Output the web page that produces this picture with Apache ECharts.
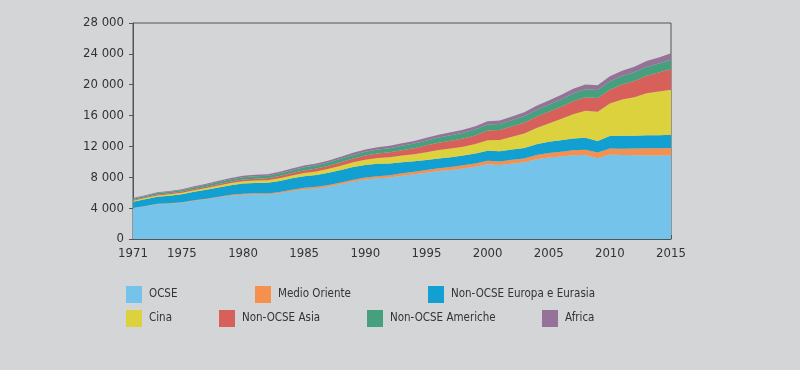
<!DOCTYPE html>
<html>
<head>
<meta charset="utf-8">
<script src="https://cdn.jsdelivr.net/npm/echarts@6/dist/echarts.min.js"></script>
<style>
html,body{margin:0;padding:0;background:#d4d5d7;}
#c{width:800px;height:370px;}
</style>
</head>
<body>
<div id="c"></div>
<script>
const years = [];
for (let y = 1971; y <= 2015; y++) years.push(String(y));

const seriesNames = ["OCSE", "Medio Oriente", "Non-OCSE Europa e Eurasia", "Cina", "Non-OCSE Asia", "Non-OCSE Americhe", "Africa"];

const ocse = [3980,4250,4520,4580,4700,4950,5150,5400,5620,5750,5790,5760,5950,6230,6450,6560,6800,7100,7450,7700,7880,7980,8200,8400,8600,8800,8950,9150,9380,9700,9600,9800,9950,10350,10580,10700,10850,10880,10480,10950,10880,10850,10870,10830,10850];
const medioOriente = [30,35,40,45,55,65,75,90,100,110,125,140,155,170,185,200,215,230,245,260,270,290,310,330,340,360,380,400,420,440,460,480,500,540,580,610,650,700,740,790,830,870,900,930,960];
const europaEurasia = [820,870,930,990,1050,1100,1150,1200,1250,1320,1350,1380,1420,1460,1500,1540,1580,1620,1630,1620,1600,1530,1450,1340,1310,1290,1270,1260,1270,1300,1310,1330,1360,1400,1450,1480,1520,1550,1480,1620,1660,1670,1670,1680,1700];
const cina = [140,150,165,170,195,205,225,255,280,300,310,330,350,375,420,460,510,560,620,700,740,790,850,930,1000,1080,1130,1160,1240,1360,1470,1650,1870,2100,2350,2750,3150,3500,3800,4200,4700,4990,5450,5670,5850];
const asia = [100,110,120,130,145,160,175,190,205,220,240,260,280,305,335,365,395,435,475,530,580,640,700,780,900,960,1020,1060,1120,1250,1290,1340,1400,1460,1520,1600,1690,1750,1780,1800,1950,2100,2270,2470,2680];
const americhe = [150,165,180,195,210,230,250,270,295,320,330,345,360,380,400,420,440,460,480,500,520,540,565,595,630,660,700,730,750,790,780,810,840,880,920,950,990,1020,1020,1070,1100,1130,1150,1170,1200];
const africa = [80,85,95,100,110,120,130,140,155,170,180,190,200,215,230,240,250,265,280,300,310,320,330,340,360,370,390,400,420,440,460,480,500,530,560,590,620,630,640,680,700,720,750,790,830];

const yTicks = [0, 4000, 8000, 12000, 16000, 20000, 24000, 28000];

const seriesData = [ocse, medioOriente, europaEurasia, cina, asia, americhe, africa];
const colors = ["#74c3ea", "#f5904f", "#12a0d2", "#dcd23e", "#d8605b", "#47a07d", "#957399"];
const legendPos = [[126,286],[255,286],[428,286],[126,310],[219,310],[367,310],[542,310]];

const FONT = '"DejaVu Sans Condensed", "Liberation Sans Narrow", "Liberation Sans", sans-serif';

const chart = echarts.init(document.getElementById('c'), null, {renderer: 'canvas'});
chart.setOption({
  backgroundColor: '#d4d5d7',
  animation: false,
  color: colors,
  grid: {left: 133, right: 129, top: 23, bottom: 131, show: true, borderColor: '#555', borderWidth: 1, backgroundColor: 'transparent'},
  legend: seriesNames.map((n, i) => ({
    data: [{name: n, icon: 'rect'}],
    left: legendPos[i][0], top: legendPos[i][1],
    padding: 0, itemWidth: 16, itemHeight: 17,
    textStyle: {fontFamily: FONT, fontSize: 11.5, color: '#333', padding: [0,0,0,2]}
  })),
  xAxis: {
    type: 'category', data: years, boundaryGap: false,
    axisLine: {lineStyle: {color: '#555', width: 1}},
    axisTick: {show: true, inside: true, length: 4, interval: 0, lineStyle: {color: '#555'}},
    axisLabel: {
      fontFamily: FONT, fontSize: 13, color: '#333', margin: 8,
      interval: function (idx, val) { const y = +val; return y === 1971 || y % 5 === 0; }
    },
    splitLine: {show: false}
  },
  yAxis: {
    type: 'value', min: yTicks[0], max: yTicks[yTicks.length - 1], interval: 4000,
    axisLine: {show: true, lineStyle: {color: '#555', width: 1}},
    axisTick: {show: true, length: 4, lineStyle: {color: '#555'}},
    axisLabel: {
      fontFamily: FONT, fontSize: 13, color: '#333', margin: 9,
      formatter: v => String(v).replace(/\B(?=(\d{3})+(?!\d))/g, ' ')
    },
    splitLine: {show: false}
  },
  series: seriesNames.map((n, i) => ({
    name: n, type: 'line', stack: 'total', data: seriesData[i],
    symbol: 'none', lineStyle: {width: 0},
    areaStyle: {color: colors[i], opacity: 1},
    itemStyle: {color: colors[i]}
  }))
});
</script>
</body>
</html>
